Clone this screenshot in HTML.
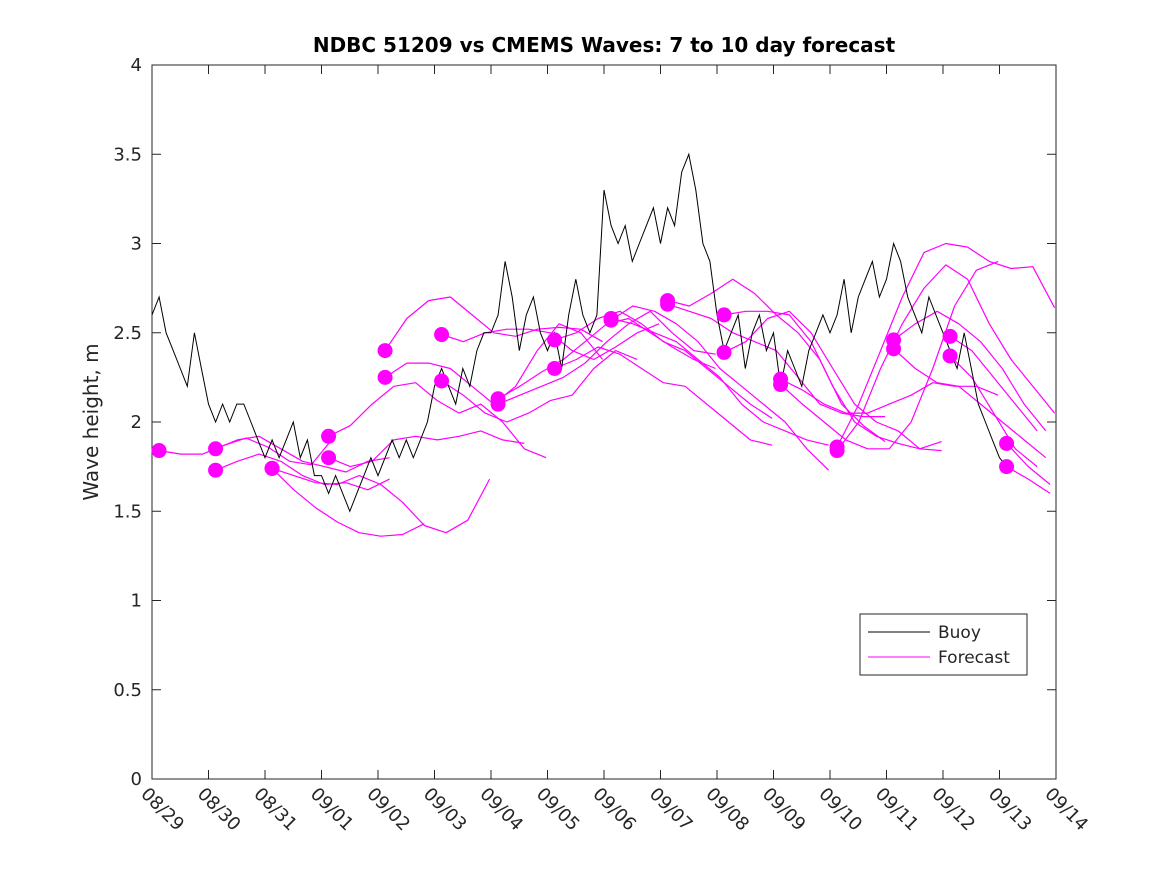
<!DOCTYPE html>
<html><head><meta charset="utf-8"><style>
body{margin:0;background:#fff;}
svg text{font-family:"DejaVu Sans","Liberation Sans",sans-serif;fill:#262626;}
</style></head><body>
<svg id="chart" width="1167" height="875" xmlns="http://www.w3.org/2000/svg">
<rect width="1167" height="875" fill="#fff"/>
<text x="604" y="52" text-anchor="middle" font-size="20" font-weight="bold" style="fill:#000">NDBC 51209 vs CMEMS Waves: 7 to 10 day forecast</text>
<text transform="translate(98,422) rotate(-90)" text-anchor="middle" font-size="20">Wave height, m</text>
<rect x="152" y="65" width="904" height="714" fill="none" stroke="#262626" stroke-width="1"/>
<g id="axes"></g>
<g id="forecast"></g>
<g id="buoy"></g>
<g id="dots"></g>
<g>
<rect x="860" y="614" width="167" height="61" fill="#fff" stroke="#262626"/>
<line x1="868" y1="632" x2="930" y2="632" stroke="#000"/>
<text x="938" y="638" font-size="17">Buoy</text>
<line x1="868" y1="657" x2="930" y2="657" stroke="#ff00ff"/>
<text x="938" y="663" font-size="17">Forecast</text>
</g>
</svg>
<script>
const xTickLabels=["08/29","08/30","08/31","09/01","09/02","09/03","09/04","09/05","09/06","09/07","09/08","09/09","09/10","09/11","09/12","09/13","09/14"];
const yTicks=[0,0.5,1,1.5,2,2.5,3,3.5,4];
const yTickLabels=["0","0.5","1","1.5","2","2.5","3","3.5","4"];
const buoyStep=0.125;
const buoy=[2.6,2.7,2.5,2.4,2.3,2.2,2.5,2.3,
2.1,2.0,2.1,2.0,2.1,2.1,2.0,1.9,
1.8,1.9,1.8,1.9,2.0,1.8,1.9,1.7,
1.7,1.6,1.7,1.6,1.5,1.6,1.7,1.8,
1.7,1.8,1.9,1.8,1.9,1.8,1.9,2.0,
2.2,2.3,2.2,2.1,2.3,2.2,2.4,2.5,
2.5,2.6,2.9,2.7,2.4,2.6,2.7,2.5,
2.4,2.5,2.3,2.6,2.8,2.6,2.5,2.6,
3.3,3.1,3.0,3.1,2.9,3.0,3.1,3.2,
3.0,3.2,3.1,3.4,3.5,3.3,3.0,2.9,
2.6,2.4,2.5,2.6,2.3,2.5,2.6,2.4,
2.5,2.2,2.4,2.3,2.2,2.4,2.5,2.6,
2.5,2.6,2.8,2.5,2.7,2.8,2.9,2.7,
2.8,3.0,2.9,2.7,2.6,2.5,2.7,2.6,
2.5,2.4,2.3,2.5,2.3,2.1,2.0,1.9,
1.8,1.75];
const fcStep=0.385;
const fcStarts=[0.125,1.125,1.125,2.125,2.125,3.125,3.125,4.125,4.125,5.125,5.125,6.125,6.125,7.125,7.125,8.125,8.125,9.125,9.125,10.125,10.125,11.125,11.125,12.125,12.125,13.125,13.125,14.125,14.125,15.125,15.125];
const fcValues=[
[1.84,1.82,1.82,1.87,1.91,1.86,1.78,1.76,1.91],
[1.85,1.90,1.92,1.85,1.78,1.75,1.72,1.78,1.80],
[1.73,1.78,1.82,1.78,1.70,1.65,1.66,1.62,1.68],
[1.74,1.62,1.52,1.44,1.38,1.36,1.37,1.43],
[1.74,1.70,1.66,1.65,1.70,1.65,1.55,1.42,1.38,1.45,1.68],
[1.92,1.98,2.10,2.20,2.22,2.12,2.05,2.10,2.00,1.85,1.80],
[1.80,1.75,1.78,1.90,1.92,1.90,1.92,1.95,1.90,1.88],
[2.40,2.58,2.68,2.70,2.60,2.50,2.48,2.52,2.53,2.52,2.45],
[2.25,2.33,2.33,2.30,2.20,2.10,2.20,2.40,2.55,2.50,2.35],
[2.49,2.45,2.50,2.52,2.52,2.50,2.40,2.35,2.42,2.50,2.55],
[2.23,2.15,2.05,2.00,2.05,2.12,2.15,2.30,2.40,2.35],
[2.13,2.20,2.28,2.35,2.45,2.55,2.58,2.50,2.42,2.35,2.30],
[2.10,2.15,2.20,2.25,2.33,2.45,2.55,2.62,2.50,2.40,2.38],
[2.46,2.50,2.58,2.62,2.55,2.45,2.40,2.30,2.20,2.10,2.02],
[2.30,2.35,2.42,2.38,2.30,2.22,2.20,2.10,2.00,1.90,1.87],
[2.58,2.55,2.50,2.45,2.35,2.25,2.10,2.00,1.95,1.90,1.87],
[2.57,2.65,2.62,2.55,2.45,2.30,2.20,2.10,2.00,1.85,1.73],
[2.68,2.65,2.72,2.80,2.72,2.60,2.50,2.35,2.10,1.98,1.89],
[2.66,2.62,2.58,2.50,2.45,2.40,2.25,2.10,2.05,2.03,2.03],
[2.60,2.62,2.62,2.60,2.45,2.20,2.00,1.92,1.88,1.85,1.89],
[2.39,2.45,2.58,2.62,2.50,2.30,2.10,2.00,1.95,1.85,1.84],
[2.24,2.18,2.10,2.05,2.05,2.10,2.15,2.22,2.20,2.20,2.15],
[2.21,2.10,2.00,1.90,1.85,1.85,2.00,2.30,2.65,2.85,2.90],
[1.86,2.10,2.40,2.70,2.95,3.00,2.98,2.90,2.86,2.87,2.64],
[1.84,2.00,2.30,2.55,2.75,2.88,2.80,2.55,2.35,2.20,2.05],
[2.46,2.55,2.62,2.55,2.45,2.30,2.10,1.95,1.85,1.75,1.65],
[2.41,2.30,2.22,2.20,2.10,2.00,1.90,1.80,1.75,1.70,1.60],
[2.48,2.40,2.25,2.10,1.95,1.85,1.88,1.90],
[2.37,2.25,2.05,1.85,1.75,1.70,1.60],
[1.88,1.75,1.65,1.57,1.53],
[1.75,1.68,1.60,1.55,1.50]];
const NS="http://www.w3.org/2000/svg";
const X0=152,X1=1056,Y0=779,Y1=65,DAYS=16,YMAX=4;
function xs(d){return X0+(X1-X0)*d/DAYS;}
function ys(v){return Y0-(Y0-Y1)*v/YMAX;}
function mk(t,a,p){const e=document.createElementNS(NS,t);for(const k in a)e.setAttribute(k,a[k]);p.appendChild(e);return e;}
const axes=document.getElementById('axes');
xTickLabels.forEach((lab,i)=>{
  const x=xs(i);
  const t1=mk('line',{x1:x,y1:Y0,x2:x,y2:Y0-9,stroke:'#262626'},axes);
  
  
  const t2=mk('line',{x1:x,y1:Y1,x2:x,y2:Y1+9,stroke:'#262626'},axes);
  
  
  const tx=mk('text',{transform:`translate(${x-12},${Y0+16}) rotate(45)`,'font-size':'18'},axes);
  tx.textContent=lab;
  
  
});
yTicks.forEach((v,i)=>{
  const y=ys(v);
  const t1=mk('line',{x1:X0,y1:y,x2:X0+9,y2:y,stroke:'#262626'},axes);
  
  
  const t2=mk('line',{x1:X1,y1:y,x2:X1-9,y2:y,stroke:'#262626'},axes);
  
  
  const tx=mk('text',{x:X0-10,y:y+6,'text-anchor':'end','font-size':'18'},axes);
  tx.textContent=yTickLabels[i];
  
  
});
const fg=document.getElementById('forecast'),dg=document.getElementById('dots');
fcValues.forEach((vals,k)=>{
  const pts=[];
  vals.forEach((v,j)=>{const d=fcStarts[k]+j*fcStep;if(d<=DAYS)pts.push(xs(d).toFixed(1)+','+ys(v).toFixed(1));});
  const pl=mk('polyline',{points:pts.join(' '),fill:'none',stroke:'#ff00ff','stroke-width':'1.2','stroke-linejoin':'round'},fg);
  
  
  const c=mk('circle',{cx:xs(fcStarts[k]),cy:ys(vals[0]),r:7.5,fill:'#ff00ff'},dg);
  
  
});
const bp=buoy.map((v,i)=>xs(i*buoyStep).toFixed(1)+','+ys(v).toFixed(1));
const bl=mk('polyline',{points:bp.join(' '),fill:'none',stroke:'#000','stroke-width':'1'},document.getElementById('buoy'));


</script>
</body></html>
